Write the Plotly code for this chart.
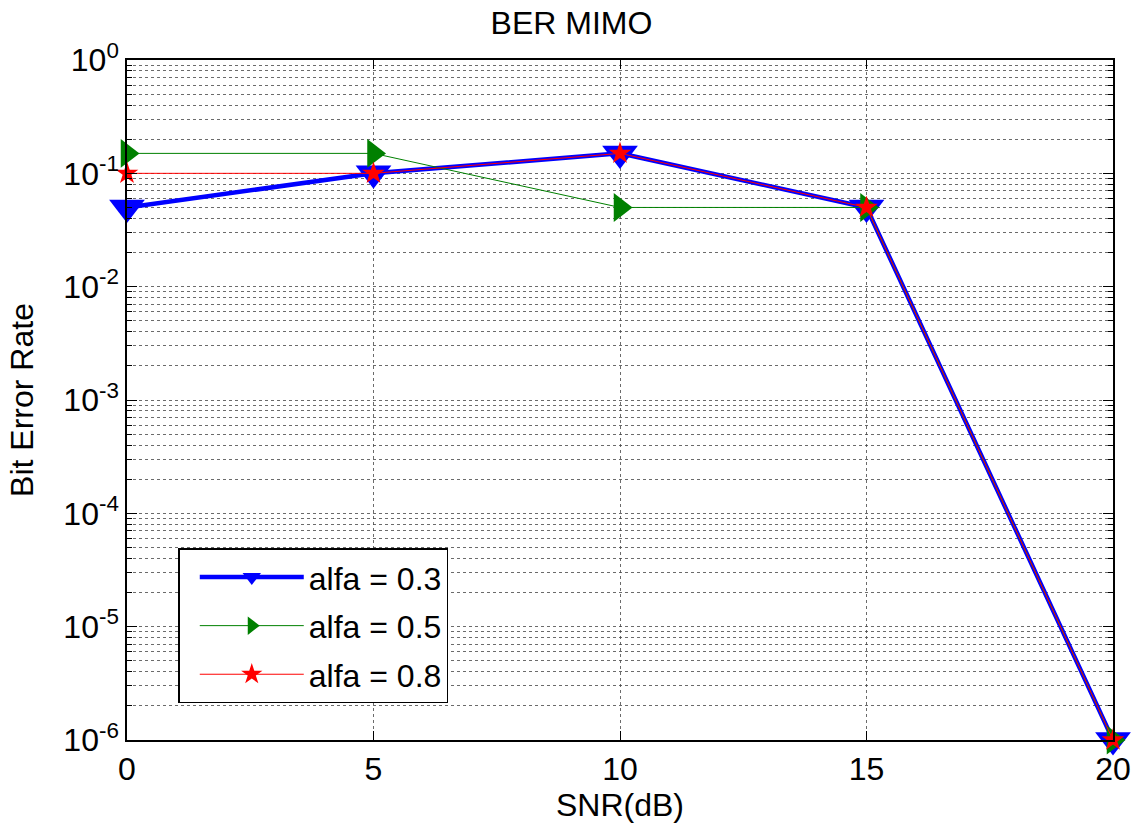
import plotly.graph_objects as go

snr = [0, 5, 10, 15, 20]
ber_03 = [0.05, 0.1, 0.15, 0.05, 1e-6]
ber_05 = [0.15, 0.15, 0.05, 0.05, 1e-6]
ber_08 = [0.1, 0.1, 0.15, 0.05, 1e-6]

y_tickvals = [1e-6, 1e-5, 1e-4, 1e-3, 1e-2, 1e-1, 1]
y_ticktext = ["10<sup>-6</sup>", "10<sup>-5</sup>", "10<sup>-4</sup>", "10<sup>-3</sup>",
              "10<sup>-2</sup>", "10<sup>-1</sup>", "10<sup>0</sup>"]
x_tickvals = [0, 5, 10, 15, 20]

minor_vals = [m * 10.0 ** e for e in range(-6, 0) for m in range(2, 10)]

FONT = "Liberation Sans, Arial, sans-serif"
FS = 32
GRID = "rgba(70,70,70,0.8)"

fig = go.Figure()
fig.add_trace(go.Scatter(
    x=snr, y=ber_03, name="alfa = 0.3", mode="lines+markers", legendgroup="a",
    line=dict(color="#0000ff", width=4.5),
    marker=dict(symbol="triangle-down", size=31, color="#0000ff"),
    cliponaxis=False))
fig.add_trace(go.Scatter(
    x=snr, y=ber_05, name="alfa = 0.5", mode="lines+markers", legendgroup="b",
    line=dict(color="#008000", width=1),
    marker=dict(symbol="triangle-right", size=25, color="#008000"),
    cliponaxis=False))
fig.add_trace(go.Scatter(
    x=snr, y=ber_08, name="alfa = 0.8", mode="lines+markers", legendgroup="c",
    line=dict(color="#ff0000", width=1),
    marker=dict(symbol="star", size=17, color="#ff0000", line=dict(width=0)),
    cliponaxis=False))

fig.update_layout(
    width=1143, height=827,
    margin=dict(l=127, r=21, t=60, b=87),
    paper_bgcolor="white", plot_bgcolor="white",
    font=dict(family=FONT, size=FS, color="black"),
    title=dict(text="BER MIMO", x=0.5, xanchor="center", y=0.972, yanchor="middle",
               font=dict(size=FS)),
    showlegend=True,
    legend=dict(x=0.052, y=0.282, xanchor="left", yanchor="top",
                bgcolor="white", bordercolor="black", borderwidth=1.5,
                font=dict(size=FS), itemwidth=104, indentation=15,
                entrywidth=265, tracegroupgap=4),
)

fig.update_xaxes(
    range=[0, 20], tickmode="array", tickvals=x_tickvals,
    ticks="inside", ticklen=9, tickcolor="black", tickfont=dict(size=FS),
    showline=True, linecolor="black", linewidth=1.5, mirror="ticks",
    showgrid=True, gridcolor=GRID, griddash="dot", gridwidth=1,
    zeroline=False,
    title=dict(text="SNR(dB)", standoff=4, font=dict(size=FS)),
)
fig.update_yaxes(
    type="log", range=[-6, 0], tickmode="array", tickvals=y_tickvals, ticktext=y_ticktext,
    ticks="inside", ticklen=10, tickcolor="black", tickfont=dict(size=FS),
    showline=True, linecolor="black", linewidth=1.5, mirror="ticks",
    showgrid=True, gridcolor=GRID, griddash="dot", gridwidth=1,
    zeroline=False,
    minor=dict(tickmode="array", tickvals=minor_vals, ticks="inside", ticklen=5,
               tickcolor="black", showgrid=True, gridcolor=GRID, griddash="dot", gridwidth=1),
    title=dict(text="Bit Error Rate", standoff=20, font=dict(size=FS)),
)

fig.write_html("out.html")
